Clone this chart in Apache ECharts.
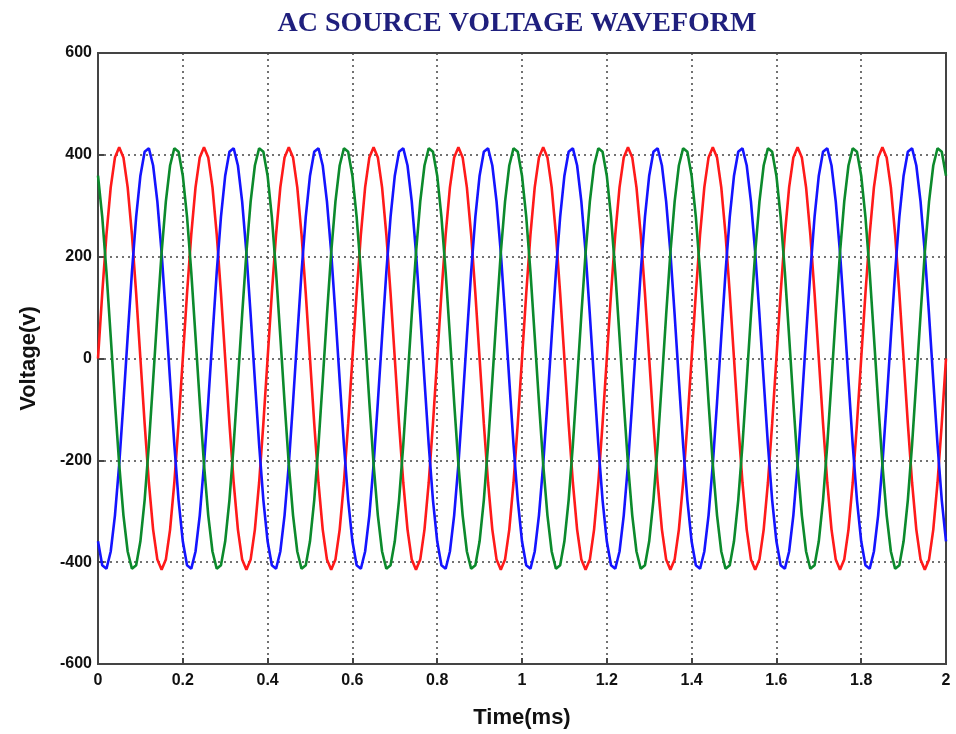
<!DOCTYPE html>
<html>
<head>
<meta charset="utf-8">
<script src="https://cdn.jsdelivr.net/npm/echarts@6/dist/echarts.min.js"></script>
<style>
  html, body { margin: 0; padding: 0; background: #fff; }
  #chart { width: 956px; height: 734px; }
</style>
</head>
<body>
<div id="chart"></div>
<script>
// sample times (ms), one sample every 0.01 ms
const timeMs = [
  0.00, 0.01, 0.02, 0.03, 0.04, 0.05, 0.06, 0.07, 0.08, 0.09, 0.10, 0.11, 0.12, 0.13, 0.14, 0.15, 0.16, 0.17, 0.18, 0.19,
  0.20, 0.21, 0.22, 0.23, 0.24, 0.25, 0.26, 0.27, 0.28, 0.29, 0.30, 0.31, 0.32, 0.33, 0.34, 0.35, 0.36, 0.37, 0.38, 0.39,
  0.40, 0.41, 0.42, 0.43, 0.44, 0.45, 0.46, 0.47, 0.48, 0.49, 0.50, 0.51, 0.52, 0.53, 0.54, 0.55, 0.56, 0.57, 0.58, 0.59,
  0.60, 0.61, 0.62, 0.63, 0.64, 0.65, 0.66, 0.67, 0.68, 0.69, 0.70, 0.71, 0.72, 0.73, 0.74, 0.75, 0.76, 0.77, 0.78, 0.79,
  0.80, 0.81, 0.82, 0.83, 0.84, 0.85, 0.86, 0.87, 0.88, 0.89, 0.90, 0.91, 0.92, 0.93, 0.94, 0.95, 0.96, 0.97, 0.98, 0.99,
  1.00, 1.01, 1.02, 1.03, 1.04, 1.05, 1.06, 1.07, 1.08, 1.09, 1.10, 1.11, 1.12, 1.13, 1.14, 1.15, 1.16, 1.17, 1.18, 1.19,
  1.20, 1.21, 1.22, 1.23, 1.24, 1.25, 1.26, 1.27, 1.28, 1.29, 1.30, 1.31, 1.32, 1.33, 1.34, 1.35, 1.36, 1.37, 1.38, 1.39,
  1.40, 1.41, 1.42, 1.43, 1.44, 1.45, 1.46, 1.47, 1.48, 1.49, 1.50, 1.51, 1.52, 1.53, 1.54, 1.55, 1.56, 1.57, 1.58, 1.59,
  1.60, 1.61, 1.62, 1.63, 1.64, 1.65, 1.66, 1.67, 1.68, 1.69, 1.70, 1.71, 1.72, 1.73, 1.74, 1.75, 1.76, 1.77, 1.78, 1.79,
  1.80, 1.81, 1.82, 1.83, 1.84, 1.85, 1.86, 1.87, 1.88, 1.89, 1.90, 1.91, 1.92, 1.93, 1.94, 1.95, 1.96, 1.97, 1.98, 1.99,
  2.00
];

// phase A (red)
const phaseA = [
  0, 128, 244, 336, 395, 415, 395, 336, 244, 128, 0, -128, -244, -336, -395, -415, -395, -336, -244, -128,
  0, 128, 244, 336, 395, 415, 395, 336, 244, 128, 0, -128, -244, -336, -395, -415, -395, -336, -244, -128,
  0, 128, 244, 336, 395, 415, 395, 336, 244, 128, 0, -128, -244, -336, -395, -415, -395, -336, -244, -128,
  0, 128, 244, 336, 395, 415, 395, 336, 244, 128, 0, -128, -244, -336, -395, -415, -395, -336, -244, -128,
  0, 128, 244, 336, 395, 415, 395, 336, 244, 128, 0, -128, -244, -336, -395, -415, -395, -336, -244, -128,
  0, 128, 244, 336, 395, 415, 395, 336, 244, 128, 0, -128, -244, -336, -395, -415, -395, -336, -244, -128,
  0, 128, 244, 336, 395, 415, 395, 336, 244, 128, 0, -128, -244, -336, -395, -415, -395, -336, -244, -128,
  0, 128, 244, 336, 395, 415, 395, 336, 244, 128, 0, -128, -244, -336, -395, -415, -395, -336, -244, -128,
  0, 128, 244, 336, 395, 415, 395, 336, 244, 128, 0, -128, -244, -336, -395, -415, -395, -336, -244, -128,
  0, 128, 244, 336, 395, 415, 395, 336, 244, 128, 0, -128, -244, -336, -395, -415, -395, -336, -244, -128,
  0
];

// phase B (blue)
const phaseB = [
  -359, -406, -413, -379, -308, -208, -86, 43, 169, 278, 359, 406, 413, 379, 308, 208, 86, -43, -169, -278,
  -359, -406, -413, -379, -308, -208, -86, 43, 169, 278, 359, 406, 413, 379, 308, 208, 86, -43, -169, -278,
  -359, -406, -413, -379, -308, -208, -86, 43, 169, 278, 359, 406, 413, 379, 308, 208, 86, -43, -169, -278,
  -359, -406, -413, -379, -308, -208, -86, 43, 169, 278, 359, 406, 413, 379, 308, 208, 86, -43, -169, -278,
  -359, -406, -413, -379, -308, -208, -86, 43, 169, 278, 359, 406, 413, 379, 308, 208, 86, -43, -169, -278,
  -359, -406, -413, -379, -308, -208, -86, 43, 169, 278, 359, 406, 413, 379, 308, 208, 86, -43, -169, -278,
  -359, -406, -413, -379, -308, -208, -86, 43, 169, 278, 359, 406, 413, 379, 308, 208, 86, -43, -169, -278,
  -359, -406, -413, -379, -308, -208, -86, 43, 169, 278, 359, 406, 413, 379, 308, 208, 86, -43, -169, -278,
  -359, -406, -413, -379, -308, -208, -86, 43, 169, 278, 359, 406, 413, 379, 308, 208, 86, -43, -169, -278,
  -359, -406, -413, -379, -308, -208, -86, 43, 169, 278, 359, 406, 413, 379, 308, 208, 86, -43, -169, -278,
  -359
];

// phase C (green)
const phaseC = [
  359, 278, 169, 43, -86, -208, -308, -379, -413, -406, -359, -278, -169, -43, 86, 208, 308, 379, 413, 406,
  359, 278, 169, 43, -86, -208, -308, -379, -413, -406, -359, -278, -169, -43, 86, 208, 308, 379, 413, 406,
  359, 278, 169, 43, -86, -208, -308, -379, -413, -406, -359, -278, -169, -43, 86, 208, 308, 379, 413, 406,
  359, 278, 169, 43, -86, -208, -308, -379, -413, -406, -359, -278, -169, -43, 86, 208, 308, 379, 413, 406,
  359, 278, 169, 43, -86, -208, -308, -379, -413, -406, -359, -278, -169, -43, 86, 208, 308, 379, 413, 406,
  359, 278, 169, 43, -86, -208, -308, -379, -413, -406, -359, -278, -169, -43, 86, 208, 308, 379, 413, 406,
  359, 278, 169, 43, -86, -208, -308, -379, -413, -406, -359, -278, -169, -43, 86, 208, 308, 379, 413, 406,
  359, 278, 169, 43, -86, -208, -308, -379, -413, -406, -359, -278, -169, -43, 86, 208, 308, 379, 413, 406,
  359, 278, 169, 43, -86, -208, -308, -379, -413, -406, -359, -278, -169, -43, 86, 208, 308, 379, 413, 406,
  359, 278, 169, 43, -86, -208, -308, -379, -413, -406, -359, -278, -169, -43, 86, 208, 308, 379, 413, 406,
  359
];

const pairs = (ys) => timeMs.map((t, i) => [t, ys[i]]);

const chart = echarts.init(document.getElementById("chart"));

const gridLine = { lineStyle: { type: [2, 4], color: "#444", width: 1.5 } };
const tickLabel = { color: "#111", fontWeight: "bold", fontSize: 16, fontFamily: "Liberation Sans, Arial, sans-serif" };

chart.setOption({
    animation: false,
    backgroundColor: "#fff",
    title: {
        text: "AC SOURCE VOLTAGE WAVEFORM",
        left: 512,
        textAlign: "center",
        top: 5,
        textStyle: {
            color: "#1f1f7d",
            fontFamily: "Liberation Serif, Times New Roman, serif",
            fontWeight: "bold",
            fontSize: 28,
        },
    },
    grid: {
        left: 98,
        right: 10,
        top: 53,
        bottom: 70,
        show: true,
        borderColor: "#444",
        borderWidth: 2,
    },
    xAxis: {
        type: "value",
        min: 0,
        max: 2,
        interval: 0.2,
        name: "Time(ms)",
        nameLocation: "middle",
        nameGap: 43,
        nameTextStyle: { color: "#111", fontWeight: "bold", fontSize: 22, fontFamily: "Liberation Sans, Arial, sans-serif" },
        axisLine: { onZero: false, lineStyle: { color: "#444", width: 2 } },
        axisTick: { inside: true, length: 6, lineStyle: { color: "#444", width: 2 } },
        axisLabel: Object.assign({ margin: 9, formatter: (v) => String(+v.toFixed(1)) }, tickLabel),
        splitLine: gridLine,
    },
    yAxis: {
        type: "value",
        min: -600,
        max: 600,
        interval: 200,
        name: "Voltage(v)",
        nameLocation: "middle",
        nameGap: 58,
        nameTextStyle: { color: "#111", fontWeight: "bold", fontSize: 22, fontFamily: "Liberation Sans, Arial, sans-serif" },
        axisLine: { show: true, onZero: false, lineStyle: { color: "#444", width: 2 } },
        axisTick: { show: true, inside: true, length: 6, lineStyle: { color: "#444", width: 2 } },
        axisLabel: Object.assign({ margin: 6 }, tickLabel),
        splitLine: gridLine,
    },
    series: [
        { name: "Va", type: "line", data: pairs(phaseA), showSymbol: false, lineStyle: { color: "#ff1a1a", width: 2.6 } },
        { name: "Vb", type: "line", data: pairs(phaseB), showSymbol: false, lineStyle: { color: "#1414ff", width: 2.6 } },
        { name: "Vc", type: "line", data: pairs(phaseC), showSymbol: false, lineStyle: { color: "#0c8a2c", width: 2.6 } },
    ],
});
</script>
</body>
</html>
